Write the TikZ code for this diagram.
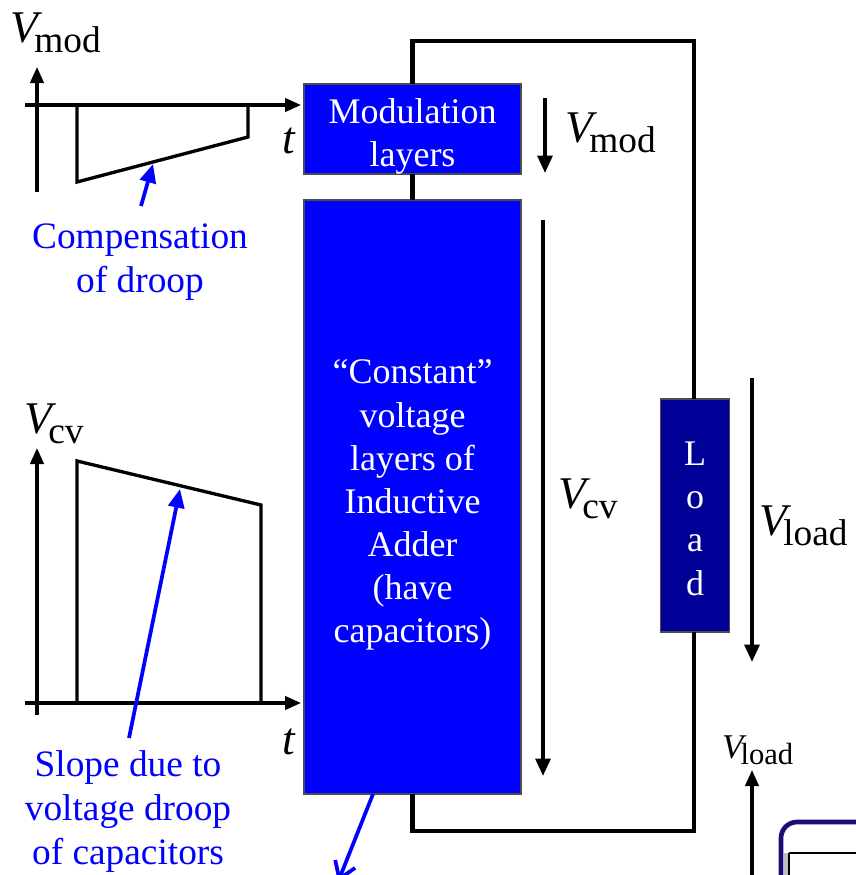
\documentclass[tikz,border=0pt]{standalone}
\usepackage{fontspec}
\setmainfont{Liberation Serif}
\usetikzlibrary{arrows.meta}
\definecolor{loadblue}{RGB}{0,0,150}
\definecolor{framenavy}{RGB}{30,10,120}
\newcommand\vlab[1]{{\fontsize{34}{34}\selectfont\itshape V}\kern-2.5pt\raisebox{-7.5pt}{\fontsize{28}{28}\selectfont #1}}
\newcommand\vlabsmall[1]{{\fontsize{26}{26}\selectfont\itshape V}\kern-2pt\raisebox{-5pt}{\fontsize{23}{23}\selectfont #1}}
\begin{document}
\begin{tikzpicture}[x=0.75pt,y=-0.75pt,
  every node/.style={inner sep=0pt, outer sep=0pt},
  boxfont/.style={font=\fontsize{27}{32.3}\selectfont},
  notefont/.style={font=\fontsize{28}{33}\selectfont},
  block/.style={draw=black!70, line width=0.8pt, fill=blue},
  boxtext/.style={text=white, align=center, boxfont},
  wire/.style={line width=3.2pt},
  axis/.style={line width=2.4pt, -{Triangle[length=12pt,width=10pt]}},
  wave/.style={line width=2.5pt, line join=miter},
  varrow/.style={line width=2.8pt, -{Triangle[length=13pt,width=11pt]}},
  note/.style={line width=2.8pt, blue, -{Triangle[length=14pt,width=12pt]}},
  notetext/.style={text=blue, align=center, notefont},
  mlabel/.style={anchor=base west},
]
\useasboundingbox (0,0) rectangle (856,875);
\clip (0,0) rectangle (856,875);

% blocks
\node[block, minimum width=162.75pt, minimum height=67.5pt] (mod) at (412.5,129) {};
\node[boxtext, yshift=-5.5pt] (modtext) at (mod) {Modulation\\layers};
\node[block, minimum width=162.75pt, minimum height=445.5pt] (cv) at (412.5,497) {};
\node[boxtext, yshift=-6pt] (cvtext) at (cv) {``Constant''\\voltage\\layers of\\Inductive\\Adder\\(have\\capacitors)};
\node[draw=black!70, line width=0.8pt, fill=loadblue, minimum width=51.75pt, minimum height=174.75pt] (load) at (695,515.5) {};
\node[boxtext, yshift=-2.5pt] (loadtext) at (load) {L\\o\\a\\d};

% circuit wire
\coordinate (tr) at (694,41);
\coordinate (br) at (694,831);
\draw[wire] (mod.north) |- (tr) -- (tr |- load.north);
\draw[wire] (tr |- load.south) -- (br) -| (cv.south);
\draw[wire] (mod.south) -- (cv.north);

% voltage arrows
\coordinate (vm1) at (545,98);  \coordinate (vm2) at (545,173);
\draw[varrow] (vm1) -- (vm2);
\node[mlabel] (vmodr) at (565,142) {\vlab{mod}};
\coordinate (vc1) at (543,220);  \coordinate (vc2) at (543,776);
\draw[varrow] (vc1) -- (vc2);
\node[mlabel] (vcvr) at (558,508) {\vlab{cv}};
\coordinate (vl1) at (752,378);  \coordinate (vl2) at (752,662);
\draw[varrow] (vl1) -- (vl2);
\node[mlabel] (vloadr) at (759,535) {\vlab{load}};

% top-left graph
\coordinate (a1b) at (37,192); \coordinate (a1t) at (37,67);
\coordinate (h1l) at (25,105); \coordinate (h1r) at (301,105);
\draw[axis] (a1b) -- (a1t);
\draw[axis] (h1l) -- (h1r);
\coordinate (w1) at (77,105); \coordinate (w2) at (77,182);
\coordinate (w3) at (248,137); \coordinate (w4) at (248,105);
\draw[wave] (w1) -- (w2) -- (w3) -- (w4);
\node[mlabel] (vmodl) at (10,42) {\vlab{mod}};
\node[mlabel, font=\fontsize{34}{34}\selectfont\itshape] (t1) at (282,153) {t};
\node[notetext] (comp) at (140,262) {Compensation\\of droop};
\coordinate (c1tail) at (141,206); \coordinate (c1tip) at (153,164);
\draw[note] (c1tail) -- (c1tip);

% bottom-left graph
\coordinate (a2b) at (37,715); \coordinate (a2t) at (37,448);
\coordinate (h2l) at (25,703); \coordinate (h2r) at (301,703);
\draw[axis] (a2b) -- (a2t);
\draw[axis] (h2l) -- (h2r);
\coordinate (u1) at (77,703); \coordinate (u2) at (77,461);
\coordinate (u3) at (261,505); \coordinate (u4) at (261,703);
\draw[wave] (u1) -- (u2) -- (u3) -- (u4);
\node[mlabel] (vcvl) at (24,433) {\vlab{cv}};
\node[mlabel, font=\fontsize{34}{34}\selectfont\itshape] (t2) at (282,754) {t};
\node[notetext] (slope) at (128,812) {Slope due to\\voltage droop\\of capacitors};
\coordinate (s1tail) at (129,738); \coordinate (s1tip) at (180,489);
\draw[note] (s1tail) -- (s1tip);

% arrow leaving the bottom of the big block
\coordinate (b1) at (373,794); \coordinate (b2) at (338,882);
\draw[line width=2.8pt, blue, -{Straight Barb[length=12pt,width=16pt]}] (b1) -- (b2);

% bottom-right small graph (partially visible)
\coordinate (a3b) at (752,880); \coordinate (a3t) at (752,770);
\draw[axis] (a3b) -- (a3t);
\node[mlabel] (vloadb) at (722,758) {\vlabsmall{load}};
\draw[line width=3.5pt, framenavy, rounded corners=12pt] (781,822) rectangle (920,960);
\draw[gray!50, line width=3pt] (786,853) -- (786,900);
\draw[line width=1.8pt] (789,853) -- (880,853);
\draw[line width=1.8pt] (789,853) -- (789,900);
\end{tikzpicture}
\end{document}
